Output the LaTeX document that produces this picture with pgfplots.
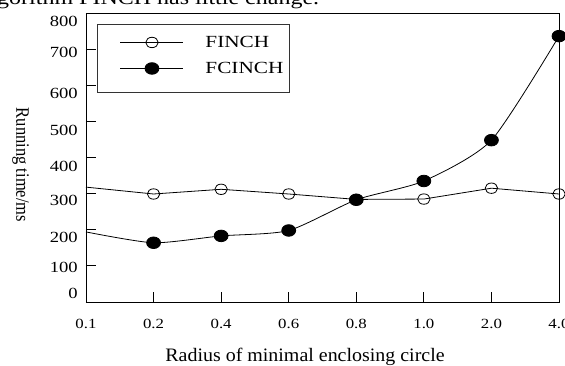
\documentclass[border=0pt]{standalone}
\usepackage{fontspec}
\setmainfont{Liberation Serif}
\usepackage{graphicx}
\usepackage{pgfplots}
\pgfplotsset{compat=1.18}
\begin{document}
\begin{tikzpicture}
\useasboundingbox (0,0) rectangle (565pt,365pt);
\clip (0,0) rectangle (565pt,365pt);
\node[anchor=base west, inner sep=0pt, font=\fontsize{20}{24}\selectfont] at (-3pt,360pt) {\scalebox{1.2}[1]{gorithm FINCH has little change.}};
\begin{axis}[
  at={(86pt,63pt)}, anchor=south west,
  scale only axis, width=473pt, height=289pt,
  xmin=0, xmax=7, ymin=0, ymax=800,
  xtick={0,...,7},
  xticklabels={0.1,0.2,0.4,0.6,0.8,1.0,2.0,4.0},
  ytick={0,100,...,800},
  yticklabels={,,,,,,,,,},
  extra y ticks={25,97,180,282,376,476,578,692,778},
  extra y tick labels={0,100,200,300,400,500,600,700,800},
  extra y tick style={major tick length=0pt},
  tick pos=left, tick align=inside, major tick length=10pt,
  tick style={black, line width=0.8pt},
  axis line style={line width=0.9pt},
  /pgf/number format/assume math mode=true,
  xticklabel style={font=\fontsize{14}{16}\selectfont, inner sep=0pt, anchor=north, yshift=-17pt, xscale=1.2},
  yticklabel style={font=\fontsize{15.5}{18}\selectfont, inner sep=0pt, anchor=east, xshift=-8pt, xscale=1.2},
  every axis x label/.style={at={(axis description cs:0.463,-0.2076)}, anchor=base, font=\fontsize{19}{22}\selectfont},
  every axis y label/.style={at={(axis description cs:-0.1385,0.474)}, rotate=-90, anchor=center, font=\fontsize{16.5}{20}\selectfont},
  xlabel={\scalebox{1.05}[1]{Radius of minimal enclosing circle}},
  ylabel={\scalebox{1}[1.15]{Running time/ms}},
  legend style={at={(0.0233,0.9619)}, anchor=north west, draw=black!80, line width=0.9pt, inner xsep=6pt, inner ysep=8pt, row sep=0pt, column sep=0pt, nodes={inner sep=0pt, font=\fontsize{17}{20}\selectfont}, fill=white},
  legend cell align=left,
  legend image code/.code={\path[draw=none,fill=none] (-17pt,-16pt) rectangle (85pt,10pt); \draw[#1] plot coordinates {(0pt,0pt) (31.5pt,0pt) (63pt,0pt)};},
  legend image post style={mark indices={2}},
]
\addplot[black, line width=0.8pt, mark=o, mark indices={2,3,4,5,6,7,8}, mark size=5.2pt, mark options={xscale=1.2, line width=0.8pt}] coordinates {
(0,318) (1,299) (2,312) (3,299) (4,284) (5,285) (6,315) (7,299)};
\addlegendentry{\scalebox{1.25}[1]{FINCH}}
\addplot[black, line width=0.8pt, smooth, tension=0.4, mark=*, mark indices={2,3,4,5,6,7,8}, mark size=5.8pt, mark options={xscale=1.2, fill=black}] coordinates {
(0,194) (1,164) (2,183) (3,198) (4,283) (5,335) (6,448) (7,736)};
\addlegendentry{\scalebox{1.25}[1]{FCINCH}}
\end{axis}
\end{tikzpicture}
\end{document}
